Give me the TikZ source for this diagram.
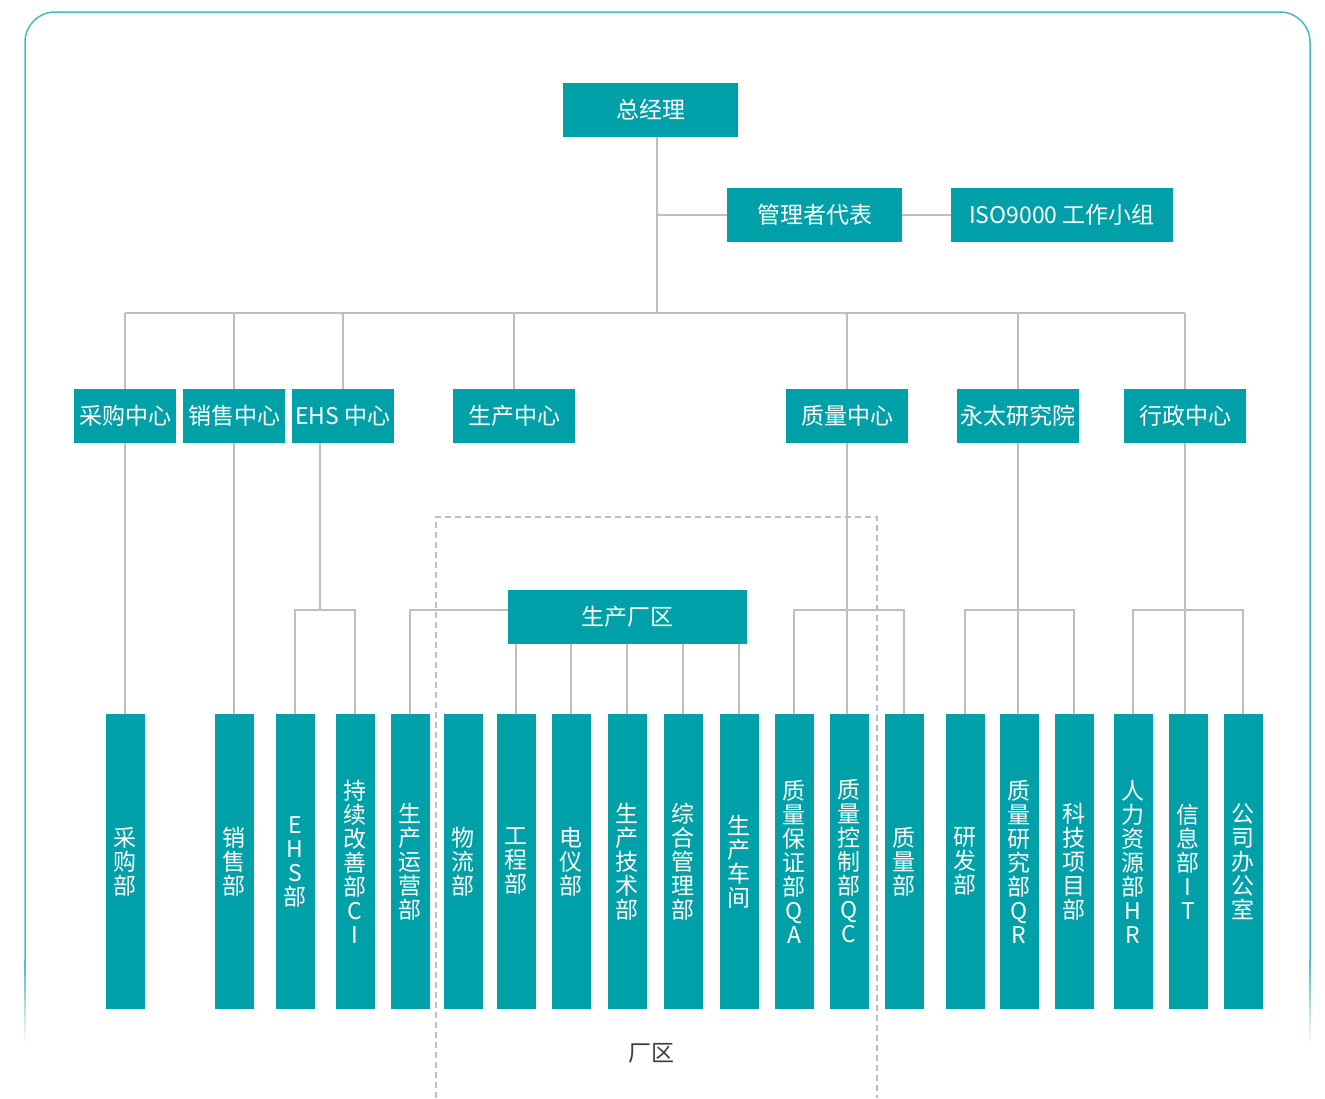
\documentclass[tikz,border=0pt]{standalone}
\usepackage{fontspec}
\setmainfont{Noto Sans CJK SC}
\usepackage{tikz}
\definecolor{teal1}{RGB}{0,160,168}
\definecolor{frameteal}{RGB}{70,186,194}
\definecolor{linegray}{RGB}{190,190,190}
\definecolor{areagray}{RGB}{60,60,60}

\begin{document}
\begin{tikzpicture}
  [x=1pt,y=-1pt,
   every node/.style={fill=teal1,text=white,inner sep=0pt,font=\fontsize{23}{24}\selectfont},
   hbox/.style={minimum height=54pt},
   vbox/.style={minimum width=39pt,minimum height=295pt,align=center},
   areatext/.style={fill=none,text=areagray},
   link/.style={draw=linegray,line width=1.2pt}]
  \useasboundingbox (0,0) rectangle (1325,1098);

  \draw [frameteal,line width=1.5pt,rounded corners=30pt] (25,960) |- (1310,12) -- (1310,960);
  \shade [top color=frameteal,bottom color=white] (24.25,960) rectangle (25.75,1045);
  \shade [top color=frameteal,bottom color=white] (1309.25,960) rectangle (1310.75,1045);

  \node [hbox,minimum width=175pt] (gm) at (650.5,110) {总经理};
  \node [hbox,minimum width=175pt] (rep) at (814.5,215) {管理者代表};
  \node [hbox,minimum width=222pt] (iso) at (1062,215) {ISO9000 工作小组};

  \node [hbox,minimum width=102pt] (c1) at (125,416) {采购中心};
  \node [hbox,minimum width=102pt] (c2) at (234,416) {销售中心};
  \node [hbox,minimum width=102pt] (c3) at (343,416) {EHS 中心};
  \node [hbox,minimum width=122pt] (c4) at (514,416) {生产中心};
  \node [hbox,minimum width=122pt] (c5) at (847,416) {质量中心};
  \node [hbox,minimum width=122pt] (c6) at (1018,416) {永太研究院};
  \node [hbox,minimum width=122pt] (c7) at (1185,416) {行政中心};

  \node [hbox,minimum width=239pt] (f) at (627.5,617) {生产厂区};

  \node [vbox] (d1) at (125,861.5) {采\\购\\部};
  \node [vbox] (d2) at (234,861.5) {销\\售\\部};
  \node [vbox] (d3) at (295,861.5) {E\\H\\S\\部};
  \node [vbox] (d4) at (355,861.5) {持\\续\\改\\善\\部\\C\\I};
  \node [vbox] (d5) at (410,861.5) {生\\产\\运\\营\\部};
  \node [vbox] (d6) at (463,861.5) {物\\流\\部};
  \node [vbox] (d7) at (516,861.5) {工\\程\\部};
  \node [vbox] (d8) at (571,861.5) {电\\仪\\部};
  \node [vbox] (d9) at (627,861.5) {生\\产\\技\\术\\部};
  \node [vbox] (d10) at (683,861.5) {综\\合\\管\\理\\部};
  \node [vbox] (d11) at (739,861.5) {生\\产\\车\\间};
  \node [vbox] (d12) at (794,861.5) {质\\量\\保\\证\\部\\Q\\A};
  \node [vbox] (d13) at (849,861.5) {质\\量\\控\\制\\部\\Q\\C};
  \node [vbox] (d14) at (904,861.5) {质\\量\\部};
  \node [vbox] (d15) at (965,861.5) {研\\发\\部};
  \node [vbox] (d16) at (1019,861.5) {质\\量\\研\\究\\部\\Q\\R};
  \node [vbox] (d17) at (1074,861.5) {科\\技\\项\\目\\部};
  \node [vbox] (d18) at (1133,861.5) {人\\力\\资\\源\\部\\H\\R};
  \node [vbox] (d19) at (1188,861.5) {信\\息\\部\\I\\T};
  \node [vbox] (d20) at (1243,861.5) {公\\司\\办\\公\\室};

  \node [areatext] (area) at (651,1053) {厂区};

  \coordinate (j0) at (657,215);
  \coordinate (j1) at (657,313);
  \coordinate (lv) at (0,610);
  \coordinate (e0) at (320,610);

  \draw [link] (gm.south -| j0) -- (j1);
  \draw [link] (j0) -- (rep.west);
  \draw [link] (rep.east) -- (iso.west);
  \draw [link] (c1.north |- j1) -- (c7.north |- j1);
  \foreach \c in {c1,c2,c3,c4,c5,c6,c7}
    \draw [link] (\c.north |- j1) -- (\c.north);

  \foreach \from/\to in {c1/d1,c2/d2}
    \draw [link] (\from.south) -- (\to.north);
  \draw [link] (c3.south -| e0) -- (e0);
  \draw [link] (d3.north) |- (e0) -| (d4.north);
  \draw [link] (d5.north) |- ([yshift=7pt]f.west);
  \foreach \to in {d7,d8,d9,d10,d11}
    \draw [link] (f.south -| \to.north) -- (\to.north);
  \foreach \from/\a/\m/\b in {c5/d12/d13/d14,c6/d15/d16/d17,c7/d18/d19/d20} {
    \draw [link] (\from.south) -- (\from.south |- \m.north);
    \draw [link] (\a.north) -- (\a.north |- lv) -- (\b.north |- lv) -- (\b.north);
  }

  \draw [linegray,line width=1.2pt,dash pattern=on 6pt off 4pt] (436,1098) |- (877,517) -- (877,1098);

\end{tikzpicture}
\end{document}
